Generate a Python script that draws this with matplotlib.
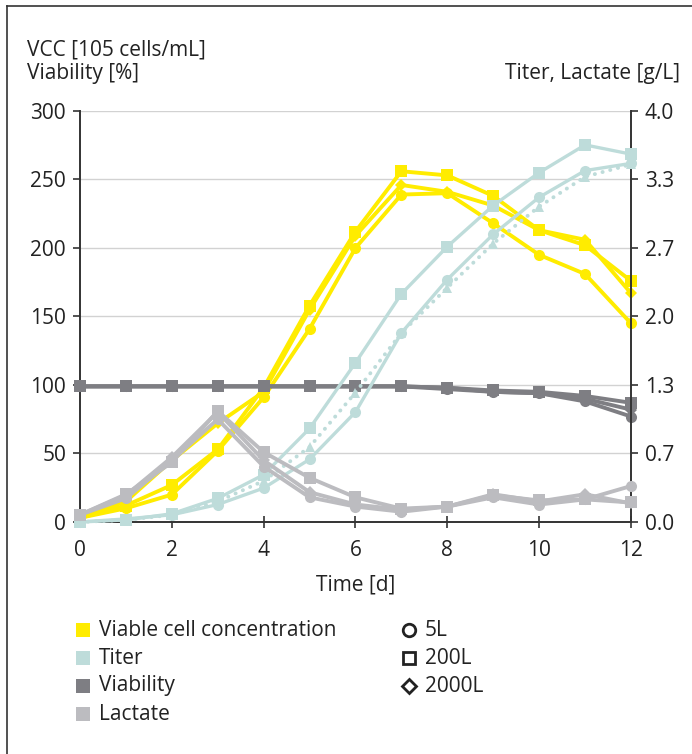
import matplotlib
matplotlib.use("Agg")
import matplotlib.pyplot as plt
from matplotlib.lines import Line2D
import numpy as np

plt.rcParams["font.family"] = ["Open Sans", "DejaVu Sans"]

days = list(range(13))

# VCC [1e5 cells/mL]
vcc_5l = [3, 10, 20, 52, 91, 141, 200, 239, 240, 218, 195, 181, 145]
vcc_200l = [3, 12, 27, 53, 98, 158, 212, 256, 253, 238, 213, 202, 176]
vcc_2000l = [3, 15, 45, 72, 95, 155, 209, 246, 241, 231, 213, 206, 167]

# Viability [%]
via_5l = [99, 99, 99, 99, 99, 99, 99, 99, 97, 95, 94, 88, 77]
via_200l = [99, 99, 99, 99, 99, 99, 99, 99, 98, 96, 95, 92, 87]
via_2000l = [99, 99, 99, 99, 99, 99, 99, 99, 98, 95, 94, 90, 82]

# Titer [g/L]
titer_5l = [0.0, 0.03, 0.07, 0.17, 0.33, 0.61, 1.07, 1.84, 2.36, 2.8, 3.16, 3.42, 3.49]
titer_200l = [0.0, 0.02, 0.08, 0.23, 0.46, 0.91, 1.55, 2.22, 2.68, 3.08, 3.4, 3.67, 3.58]
titer_2000l = [0.0, 0.02, 0.07, 0.2, 0.4, 0.73, 1.26, 1.84, 2.28, 2.71, 3.07, 3.36, 3.48]

# Lactate [g/L]
lac_5l = [0.07, 0.23, 0.6, 1.0, 0.54, 0.24, 0.15, 0.1, 0.15, 0.24, 0.17, 0.22, 0.35]
lac_200l = [0.07, 0.27, 0.58, 1.08, 0.68, 0.43, 0.24, 0.13, 0.15, 0.26, 0.21, 0.22, 0.19]
lac_2000l = [0.07, 0.26, 0.63, 1.07, 0.6, 0.29, 0.17, 0.12, 0.15, 0.27, 0.2, 0.27, 0.18]

YELLOW = "#FFEC00"
TEAL = "#BEDCDA"
DARK = "#7E7E83"
LIGHT = "#BCBCC0"
TXT = "#222222"
FS = 15

fig = plt.figure(figsize=(6.92, 7.54), dpi=100)
ax = fig.add_axes([0.1156, 0.3077, 0.7962, 0.5451])
ax2 = ax.twinx()

kw = dict(clip_on=False, markeredgewidth=0)
# VCC
ax.plot(days, vcc_5l, color=YELLOW, lw=2.8, marker="o", ms=8, zorder=3, **kw)
ax.plot(days, vcc_2000l, color=YELLOW, lw=2.8, marker="D", ms=6, zorder=3, **kw)
ax.plot(days, vcc_200l, color=YELLOW, lw=2.8, marker="s", ms=8, zorder=3, **kw)
# Viability
ax.plot(days, via_5l, color=DARK, lw=2.8, marker="o", ms=8, zorder=4, **kw)
ax.plot(days, via_2000l, color=DARK, lw=2.8, marker="D", ms=6, zorder=4, **kw)
ax.plot(days, via_200l, color=DARK, lw=2.8, marker="s", ms=8, zorder=4, **kw)

# Titer
ax2.plot(days, titer_2000l, color=TEAL, lw=2.8, ls=(0, (0.05, 2.0)),
         dash_capstyle="round", marker="^", ms=7, zorder=3, **kw)
ax2.plot(days, titer_5l, color=TEAL, lw=2.4, marker="o", ms=8, zorder=3, **kw)
ax2.plot(days, titer_200l, color=TEAL, lw=2.4, marker="s", ms=8, zorder=3, **kw)
# Lactate
ax2.plot(days, lac_5l, color=LIGHT, lw=2.8, marker="o", ms=8, zorder=4, **kw)
ax2.plot(days, lac_2000l, color=LIGHT, lw=2.8, marker="D", ms=6, zorder=4, **kw)
ax2.plot(days, lac_200l, color=LIGHT, lw=2.8, marker="s", ms=8, zorder=4, **kw)

ax.set_xlim(0, 12)
ax.set_ylim(0, 300)
ax2.set_ylim(0, 4)
ax.set_xticks(range(0, 13, 2))
ax.set_yticks(range(0, 301, 50))
ax2.set_yticks(np.linspace(0, 4, 7))
ax2.set_yticklabels([f"{v:.1f}" for v in np.linspace(0, 4, 7)])

ax.yaxis.grid(True, color="#D2D2D2", lw=1.0)
ax.set_axisbelow(True)

for a in (ax, ax2):
    a.spines["top"].set_visible(False)
    for s in ("left", "right", "bottom"):
        a.spines[s].set_color("#333333")
        a.spines[s].set_linewidth(1.4)
ax.spines["right"].set_visible(False)
ax2.spines["left"].set_visible(False)
ax2.spines["bottom"].set_visible(False)

ax.tick_params(axis="y", direction="out", length=5, width=1.2, colors="#333333",
               labelsize=FS, labelcolor=TXT, pad=5)
ax.tick_params(axis="x", direction="inout", length=8, width=1.2, colors="#333333",
               labelsize=FS, labelcolor=TXT, pad=9)
ax2.tick_params(axis="y", direction="out", length=5, width=1.2, colors="#333333",
                labelsize=FS, labelcolor=TXT, pad=5)

ax.set_xlabel("Time [d]", fontsize=FS, color=TXT, labelpad=10)

fig.text(27 / 692, 1 - 50 / 754, "VCC [105 cells/mL]", fontsize=FS, color=TXT,
         ha="left", va="center")
fig.text(27 / 692, 1 - 73 / 754, "Viability [%]", fontsize=FS, color=TXT,
         ha="left", va="center")
fig.text(680 / 692, 1 - 73 / 754, "Titer, Lactate [g/L]", fontsize=FS, color=TXT,
         ha="right", va="center")

# Legend (manual layout)
series_names = ["Viable cell concentration", "Titer", "Viability", "Lactate"]
series_colors = [YELLOW, TEAL, DARK, LIGHT]
scale_names = ["5L", "200L", "2000L"]
scale_markers = ["o", "s", "D"]
rows_y = [630, 658, 686, 714]
for name, col, yp in zip(series_names, series_colors, rows_y):
    fy = 1 - yp / 754
    fig.add_artist(Line2D([83 / 692], [fy], marker="s", ms=10, color=col,
                          markeredgewidth=0, transform=fig.transFigure))
    fig.text(99 / 692, fy, name, fontsize=FS, color=TXT, ha="left", va="center")
for name, mk, yp in zip(scale_names, scale_markers, rows_y):
    fy = 1 - yp / 754
    fig.add_artist(Line2D([409 / 692], [fy], marker=mk, ms=9 if mk != "D" else 7,
                          markerfacecolor="none", markeredgecolor=TXT,
                          markeredgewidth=2, transform=fig.transFigure))
    fig.text(425 / 692, fy, name, fontsize=FS, color=TXT, ha="left", va="center")

# frame lines (top and left)
fig.add_artist(Line2D([7 / 692, 1], [1 - 6 / 754, 1 - 6 / 754], color="#333333",
                      lw=1.2, transform=fig.transFigure))
fig.add_artist(Line2D([7 / 692, 7 / 692], [0, 1 - 6 / 754], color="#333333",
                      lw=1.2, transform=fig.transFigure))

fig.savefig("out.png", dpi=100)
